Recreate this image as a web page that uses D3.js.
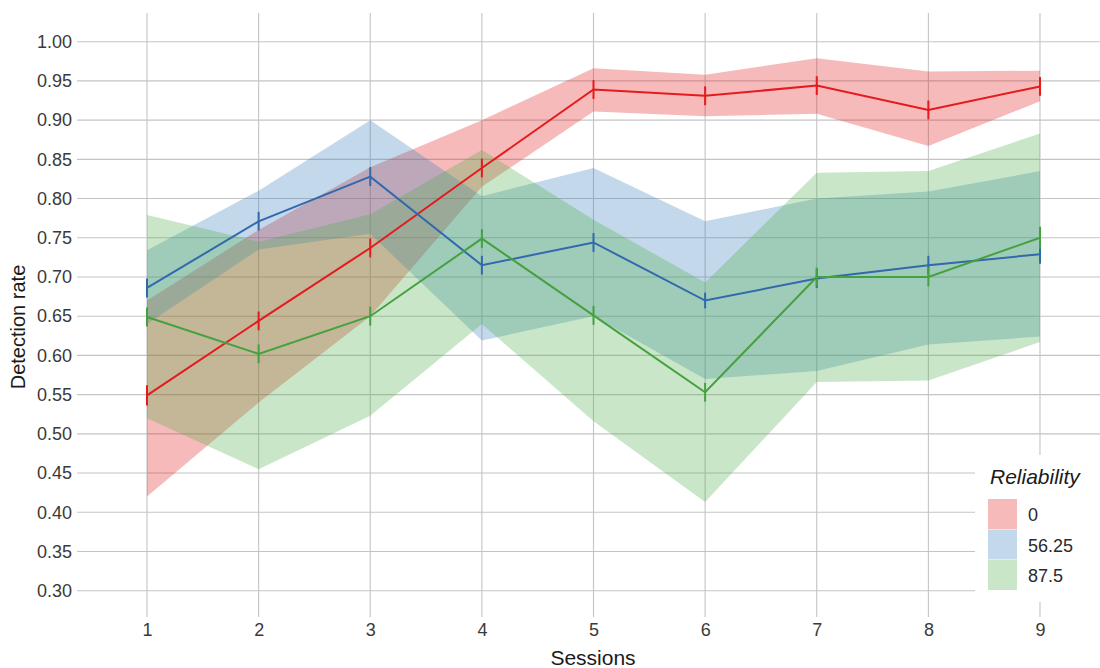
<!DOCTYPE html>
<html>
<head>
<meta charset="utf-8">
<script src="https://cdn.jsdelivr.net/npm/d3@7"></script>
<style>
  html, body { margin: 0; padding: 0; background: #fff; }
  svg { display: block; font-family: "Liberation Sans", Arial, Helvetica, sans-serif; }
</style>
</head>
<body>
<svg id="chart" width="1100" height="668"></svg>
<script>
// ---- data ----
const sessions = [1, 2, 3, 4, 5, 6, 7, 8, 9];
const levels = ["0", "56.25", "87.5"];
const yTicks = [0.30, 0.35, 0.40, 0.45, 0.50, 0.55, 0.60, 0.65, 0.70, 0.75, 0.80, 0.85, 0.90, 0.95, 1.00];

const mean0 = [0.549, 0.644, 0.737, 0.839, 0.939, 0.931, 0.944, 0.913, 0.943];
const lo0   = [0.420, 0.540, 0.650, 0.815, 0.911, 0.905, 0.908, 0.867, 0.924];
const hi0   = [0.670, 0.760, 0.840, 0.900, 0.966, 0.958, 0.979, 0.962, 0.963];
const err0  = [0.013, 0.012, 0.012, 0.012, 0.012, 0.012, 0.012, 0.012, 0.012];

const mean1 = [0.686, 0.771, 0.828, 0.715, 0.744, 0.670, 0.698, 0.715, 0.729];
const lo1   = [0.640, 0.735, 0.755, 0.619, 0.650, 0.570, 0.580, 0.614, 0.624];
const hi1   = [0.734, 0.810, 0.900, 0.803, 0.839, 0.771, 0.800, 0.809, 0.835];
const err1  = [0.012, 0.012, 0.012, 0.012, 0.012, 0.010, 0.012, 0.012, 0.012];

const mean2 = [0.649, 0.602, 0.650, 0.749, 0.651, 0.553, 0.700, 0.700, 0.750];
const lo2   = [0.520, 0.455, 0.523, 0.640, 0.516, 0.413, 0.566, 0.568, 0.617];
const hi2   = [0.779, 0.745, 0.780, 0.862, 0.773, 0.693, 0.833, 0.835, 0.883];
const err2  = [0.012, 0.012, 0.012, 0.012, 0.012, 0.012, 0.012, 0.012, 0.014];

const fillColors = ["#e41a1c", "#377eb8", "#4daf4a"];
const lineColors = ["#e41a1c", "#3368ad", "#45a13f"];

// ---- build ----
const series = [
  {level: levels[0], mean: mean0, lo: lo0, hi: hi0, err: err0, fill: fillColors[0], color: lineColors[0]},
  {level: levels[1], mean: mean1, lo: lo1, hi: hi1, err: err1, fill: fillColors[1], color: lineColors[1]},
  {level: levels[2], mean: mean2, lo: lo2, hi: hi2, err: err2, fill: fillColors[2], color: lineColors[2]}
].map(s => ({...s, pts: sessions.map((x, i) => ({x, m: s.mean[i], lo: s.lo[i], hi: s.hi[i], e: s.err[i]}))}));

const svg = d3.select("#chart");
const panel = {left: 77, right: 1100, top: 13, bottom: 617};

const x = d3.scaleLinear().domain([1, 9]).range([147, 1040]);
const y = d3.scaleLinear().domain([0.30, 1.00]).range([590.7, 41.7]);

const gridColor = "#c4c4c4";
const g = svg.append("g");

// grid
g.append("g").selectAll("line").data(yTicks).join("line")
  .attr("x1", panel.left).attr("x2", panel.right)
  .attr("y1", d => y(d)).attr("y2", d => y(d))
  .attr("stroke", gridColor).attr("stroke-width", 1.1);
g.append("g").selectAll("line").data(sessions).join("line")
  .attr("x1", d => x(d)).attr("x2", d => x(d))
  .attr("y1", panel.top).attr("y2", panel.bottom)
  .attr("stroke", gridColor).attr("stroke-width", 1.1);

// ribbons
const area = d3.area().x(d => x(d.x)).y0(d => y(d.lo)).y1(d => y(d.hi));
g.append("g").selectAll("path").data(series).join("path")
  .attr("d", d => area(d.pts))
  .attr("fill", d => d.fill).attr("fill-opacity", 0.3);

// lines
const line = d3.line().x(d => x(d.x)).y(d => y(d.m));
g.append("g").selectAll("path").data(series).join("path")
  .attr("d", d => line(d.pts))
  .attr("fill", "none").attr("stroke", d => d.color).attr("stroke-width", 2);

// error bars
series.forEach(s => {
  g.append("g").selectAll("line").data(s.pts).join("line")
    .attr("x1", d => x(d.x)).attr("x2", d => x(d.x))
    .attr("y1", d => y(d.m - d.e)).attr("y2", d => y(d.m + d.e))
    .attr("stroke", s.color).attr("stroke-width", 2);
});

// axes text
const yAxis = d3.axisLeft(y).tickValues(yTicks).tickFormat(d3.format(".2f")).tickSize(0).tickPadding(0);
const ya = svg.append("g").attr("transform", "translate(72,0)").call(yAxis);
ya.select(".domain").remove();
ya.selectAll("text").attr("font-size", 18).attr("fill", "#3a3a3a")
  .attr("font-family", "'Liberation Sans', Arial, sans-serif");

const xAxis = d3.axisBottom(x).tickValues(sessions).tickFormat(d3.format("d")).tickSize(0).tickPadding(0);
const xa = svg.append("g").attr("transform", "translate(0,623)").call(xAxis);
xa.select(".domain").remove();
xa.selectAll("text").attr("font-size", 18).attr("fill", "#3a3a3a")
  .attr("font-family", "'Liberation Sans', Arial, sans-serif");

svg.append("text").attr("x", 593).attr("y", 665).attr("text-anchor", "middle")
  .attr("font-size", 21).attr("fill", "#1a1a1a").text("Sessions");
svg.append("text").attr("transform", "translate(25,327) rotate(-90)").attr("text-anchor", "middle")
  .attr("font-size", 20).attr("fill", "#1a1a1a").text("Detection rate");

// legend
const lg = svg.append("g");
lg.append("rect").attr("x", 975).attr("y", 455).attr("width", 130).attr("height", 147).attr("fill", "#fff");
lg.append("text").attr("x", 990).attr("y", 484).attr("font-size", 21).attr("font-style", "italic")
  .attr("fill", "#1a1a1a").text("Reliability");
const items = lg.selectAll("g.item").data(series).join("g").attr("class", "item")
  .attr("transform", (d, i) => `translate(988,${499 + i * 30.5})`);
items.append("rect").attr("width", 29).attr("height", 30)
  .attr("fill", d => d.fill).attr("fill-opacity", 0.3);
items.append("text").attr("x", 40).attr("y", 22).attr("font-size", 18).attr("fill", "#2a2a2a")
  .text(d => d.level);
</script>
</body>
</html>
